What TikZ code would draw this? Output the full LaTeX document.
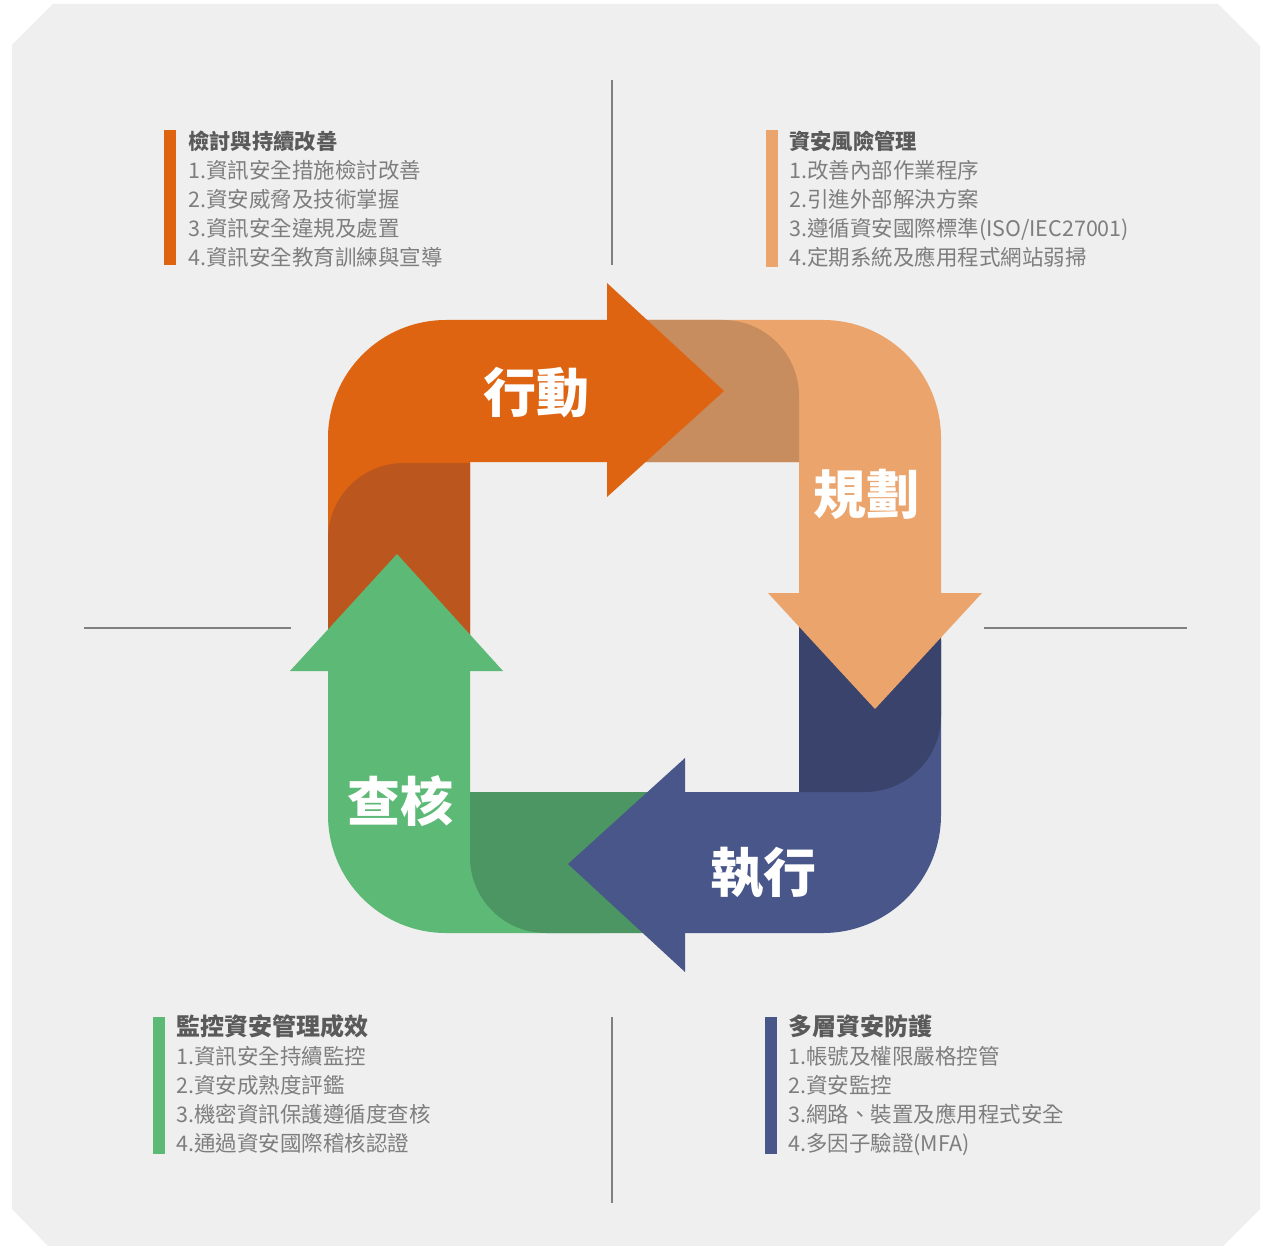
\documentclass[tikz,border=0pt]{standalone}
\usepackage{fontspec}
\newfontfamily\cjk{Noto Sans CJK TC}
\definecolor{bgc}{HTML}{EFEFEF}
\definecolor{orA}{HTML}{DE6411}
\definecolor{orT}{HTML}{BB571E}
\definecolor{loA}{HTML}{EBA46B}
\definecolor{loT}{HTML}{C88D5E}
\definecolor{blA}{HTML}{485689}
\definecolor{blT}{HTML}{39436B}
\definecolor{grA}{HTML}{5DB976}
\definecolor{grT}{HTML}{4B9662}
\definecolor{headgray}{HTML}{5A5A5A}
\definecolor{itemgray}{HTML}{7E7E7E}
\definecolor{sepgray}{HTML}{808080}
\begin{document}
\begin{tikzpicture}[x=1pt,y=-1pt,
  item/.style={anchor=base west,inner sep=0pt,text=itemgray,font=\cjk\fontsize{21.5}{21.5}\selectfont},
  headtext/.style={anchor=base west,inner sep=0pt,text=headgray,font=\cjk\bfseries\fontsize{21.3}{21.3}\selectfont},
  bigheadtext/.style={anchor=base west,inner sep=0pt,text=headgray,font=\cjk\bfseries\fontsize{24}{24}\selectfont},
  biglabel/.style={anchor=center,inner sep=0pt,text=white,font=\cjk\bfseries\fontsize{53}{53}\selectfont},
  sepline/.style={draw=sepgray,line width=1.3pt}]
\useasboundingbox (0,0) rectangle (1261,1246);
\fill[white] (0,0) rectangle (1261,1246);
\fill[bgc] (12,45) -- (53,4) -- (1218,4) -- (1260,46) -- (1260,1209) -- (1223,1246) -- (48,1246) -- (12,1209) -- cycle;

% separator lines
\coordinate (vt1) at (612,80);   \coordinate (vt2) at (612,265);
\coordinate (vb1) at (612,1017); \coordinate (vb2) at (612,1203);
\coordinate (hl1) at (84,628);   \coordinate (hl2) at (291,628);
\coordinate (hr1) at (984,628);  \coordinate (hr2) at (1187,628);
\draw[sepline] (vt1) -- (vt2);
\draw[sepline] (vb1) -- (vb2);
\draw[sepline] (hl1) -- (hl2);
\draw[sepline] (hr1) -- (hr2);

% ===== bodies =====
\fill[orA] (328,650) -- (470,650) -- (470,462) -- (615,462) -- (615,320) -- (446,320)
  .. controls (380.8,320) and (328,372.8) .. (328,438) -- cycle;
\fill[loA] (640,320) -- (823,320) .. controls (888.2,320) and (941,372.8) .. (941,438)
  -- (941,600) -- (799,600) -- (799,462) -- (640,462) -- cycle;
\fill[blA] (799,640) -- (941,640) -- (941,815) .. controls (941,880.2) and (888.2,933) .. (823,933)
  -- (680,933) -- (680,792) -- (799,792) -- cycle;
\fill[grA] (328,665) -- (470,665) -- (470,792) -- (600,792) -- (600,933) -- (446,933)
  .. controls (380.8,933) and (328,880.2) .. (328,815) -- cycle;

% ===== tails =====
\fill[orT] (470,463) -- (470,660) -- (328,660) -- (328,539) .. controls (328,497) and (362,463) .. (404,463) -- cycle;
\fill[loT] (620,320) -- (723,320) .. controls (765,320) and (799,354) .. (799,396) -- (799,462) -- (620,462) -- cycle;
\fill[blT] (799,600) -- (941,600) -- (941,716) .. controls (941,758) and (907,792) .. (865,792) -- (799,792) -- cycle;
\fill[grT] (670,792) -- (670,933) -- (546,933) .. controls (504,933) and (470,899) .. (470,857) -- (470,792) -- cycle;

% ===== heads =====
\fill[orA] (607,283) -- (724,391) -- (607,497) -- cycle;
\fill[loA] (768,593) -- (982,593) -- (875,709) -- cycle;
\fill[blA] (685,758) -- (568,864) -- (685,972) -- cycle;
\fill[grA] (290,671) -- (397,554) -- (503,671) -- cycle;

% ===== big labels =====
\node[biglabel] (act) at (536,393) {行動};
\node[biglabel] (plan) at (866,494) {規劃};
\node[biglabel] (exec) at (763,873) {執行};
\node[biglabel] (check) at (400,801) {查核};

% ===== text blocks =====
% top-left
\fill[orA] (164,130) rectangle (176,265);
\node[headtext] (tlh) at (188,149.5) {檢討與持續改善};
\node[item] (tl1) at (188,178.5) {1.資訊安全措施檢討改善};
\node[item] (tl2) at (188,207.5) {2.資安威脅及技術掌握};
\node[item] (tl3) at (188,236.5) {3.資訊安全違規及處置};
\node[item] (tl4) at (188,265.5) {4.資訊安全教育訓練與宣導};
% top-right
\fill[loA] (766,130) rectangle (778,267);
\node[headtext] (trh) at (789,149.5) {資安風險管理};
\node[item] (tr1) at (789,178.5) {1.改善內部作業程序};
\node[item] (tr2) at (789,207.5) {2.引進外部解決方案};
\node[item] (tr3) at (789,236.5) {3.遵循資安國際標準(ISO/IEC27001)};
\node[item] (tr4) at (789,265.5) {4.定期系統及應用程式網站弱掃};
% bottom-left
\fill[grA] (153,1017) rectangle (165,1154);
\node[bigheadtext] (blh) at (176,1035) {監控資安管理成效};
\node[item] (bl1) at (176,1064) {1.資訊安全持續監控};
\node[item] (bl2) at (176,1093) {2.資安成熟度評鑑};
\node[item] (bl3) at (176,1122.5) {3.機密資訊保護遵循度查核};
\node[item] (bl4) at (176,1151.5) {4.通過資安國際稽核認證};
% bottom-right
\fill[blA] (765,1017) rectangle (777,1154);
\node[bigheadtext] (brh) at (788,1035) {多層資安防護};
\node[item] (br1) at (788,1064) {1.帳號及權限嚴格控管};
\node[item] (br2) at (788,1093) {2.資安監控};
\node[item] (br3) at (788,1122.5) {3.網路、裝置及應用程式安全};
\node[item] (br4) at (788,1151.5) {4.多因子驗證(MFA)};
\end{tikzpicture}
\end{document}
